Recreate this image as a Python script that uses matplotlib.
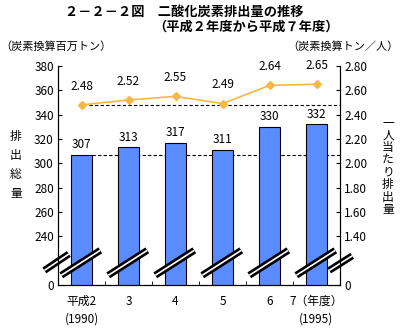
import matplotlib.pyplot as plt

plt.rcParams['font.family'] = ['Noto Sans CJK JP', 'DejaVu Sans']

years = ['平成2\n(1990)', '3', '4', '5', '6', '7（年度）\n(1995)']
total = [307, 313, 317, 311, 330, 332]
per_capita = [2.48, 2.52, 2.55, 2.49, 2.64, 2.65]
left_ticks = [200, 240, 260, 280, 300, 320, 340, 360, 380]
left_labels = ['0', '240', '260', '280', '300', '320', '340', '360', '380']
right_ticks = [1.0, 1.4, 1.6, 1.8, 2.0, 2.2, 2.4, 2.6, 2.8]
right_labels = ['0', '1.40', '1.60', '1.80', '2.00', '2.20', '2.40', '2.60', '2.80']

bar_color = '#5B8CFF'
line_color = '#F7B843'

fig = plt.figure(figsize=(4, 3.28), dpi=100)
ax = fig.add_axes([0.145, 0.131, 0.705, 0.668])
ax2 = ax.twinx()

x = list(range(len(years)))
ax.bar(x, total, width=0.45, color=bar_color, edgecolor='black', linewidth=0.8, zorder=2)
for xi, v in zip(x, total):
    ax.text(xi, v + 3, str(v), ha='center', va='bottom', fontsize=8.5)

ax.set_xlim(-0.5, 5.5)
ax.set_ylim(200, 380)
ax2.set_ylim(1.0, 2.8)

# reference dashed lines at first year values
ax.plot([0.225, 5.5], [total[0], total[0]], 'k--', lw=0.8, dashes=(3, 2), zorder=1)
ax2.plot([0.15, 5.5], [per_capita[0], per_capita[0]], 'k--', lw=0.8, dashes=(3, 2), zorder=1)

ax2.plot(x, per_capita, color=line_color, lw=1.2, marker='D', markersize=4.5, zorder=3)
for xi, v in zip(x, per_capita):
    ax2.text(xi, v + 0.1, f'{v:.2f}', ha='center', va='bottom', fontsize=8.5)

# axis break marks
def brk(x0, y0, x1, y1):
    ax.plot([x0, x1], [y0, y1], color='black', lw=5, solid_capstyle='butt', clip_on=False, zorder=5)
    ax.plot([x0, x1], [y0, y1], color='white', lw=1.2, solid_capstyle='butt', clip_on=False, zorder=6)

for xi in x:
    brk(xi - 0.43, 208, xi + 0.40, 228.5)
brk(-0.79, 212, -0.27, 225.5)
brk(5.27, 212, 5.76, 224)

ax.set_yticks(left_ticks)
ax.set_yticklabels(left_labels, fontsize=8.5)
ax2.set_yticks(right_ticks)
ax2.set_yticklabels(right_labels, fontsize=8.5)
ax.set_xticks(x)
ax.set_xticklabels(years, fontsize=8.5, linespacing=1.5)
ax.set_xticks([0.5, 1.5, 2.5, 3.5, 4.5], minor=True)
ax.tick_params(axis='x', which='major', length=0, pad=7)
ax.tick_params(axis='x', which='minor', direction='in', length=3)
ax.tick_params(axis='y', direction='in', length=3, pad=3)
ax2.tick_params(axis='y', direction='in', length=3, pad=3)
for a in (ax, ax2):
    a.spines['top'].set_visible(False)

fig.text(65 / 400, 1 - 12 / 328, '２－２－２図　二酸化炭素排出量の推移', fontsize=9.5,
         fontweight='bold', ha='left', va='center')
fig.text(153 / 400, 1 - 27 / 328, '（平成２年度から平成７年度）', fontsize=9.5,
         fontweight='bold', ha='left', va='center')
fig.text(0 / 400, 1 - 47 / 328, '（炭素換算百万トン）', fontsize=8, ha='left', va='center')
fig.text(399 / 400, 1 - 47 / 328, '（炭素換算トン／人）', fontsize=8, ha='right', va='center')
fig.text(16 / 400, 1 - 165 / 328, '\n'.join('排出総量'), fontsize=8.5, ha='center', va='center',
         linespacing=1.6)
fig.text(388 / 400, 1 - 166 / 328, '\n'.join('一人当たり排出量'), fontsize=8.5, ha='center',
         va='center', linespacing=0.95)

fig.savefig('out.png', dpi=100)
